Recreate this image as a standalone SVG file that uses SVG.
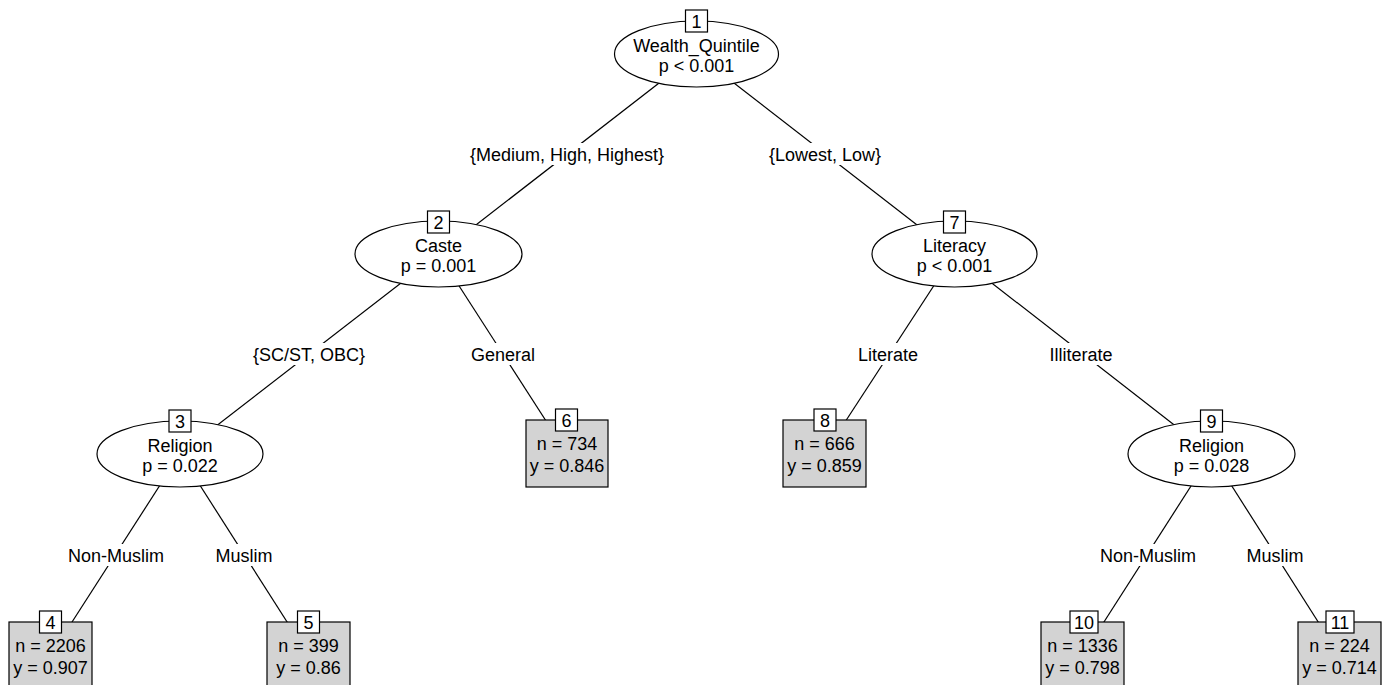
<svg xmlns="http://www.w3.org/2000/svg" width="1388" height="685" viewBox="0 0 1388 685">
<style>
text{font-family:"Liberation Sans",Arial,sans-serif;font-size:18px;fill:#000;text-anchor:middle}
.edge{stroke:#000;stroke-width:1.2;fill:none}
.lbg{fill:#fff;stroke:none}
.inner{fill:#fff;stroke:#000;stroke-width:1.2}
.leaf{fill:#d3d3d3;stroke:#000;stroke-width:1.2}
.idbox{fill:#fff;stroke:#000;stroke-width:1.2}
</style>
<rect width="1388" height="685" fill="#fff"/>
<g id="connectors">
<line class="edge" x1="696.5" y1="54" x2="438.5" y2="254"/>
<line class="edge" x1="696.5" y1="54" x2="954.5" y2="254"/>
<line class="edge" x1="438.5" y1="254" x2="180" y2="454"/>
<line class="edge" x1="438.5" y1="254" x2="567" y2="453.5"/>
<line class="edge" x1="954.5" y1="254" x2="824.5" y2="453.5"/>
<line class="edge" x1="954.5" y1="254" x2="1211.5" y2="454"/>
<line class="edge" x1="180" y1="454" x2="50.5" y2="655.5"/>
<line class="edge" x1="180" y1="454" x2="308.5" y2="655.5"/>
<line class="edge" x1="1211.5" y1="454" x2="1082.5" y2="655.5"/>
<line class="edge" x1="1211.5" y1="454" x2="1339.5" y2="655.5"/>
<rect class="lbg" x="468" y="143" width="198" height="22"/>
<text x="567" y="161">{Medium, High, Highest}</text>
<rect class="lbg" x="767" y="143" width="116" height="22"/>
<text x="825" y="161">{Lowest, Low}</text>
<rect class="lbg" x="250" y="343" width="118" height="22"/>
<text x="309" y="361">{SC/ST, OBC}</text>
<rect class="lbg" x="469" y="343" width="68" height="22"/>
<text x="503" y="361">General</text>
<rect class="lbg" x="856" y="343" width="64" height="22"/>
<text x="888" y="361">Literate</text>
<rect class="lbg" x="1048" y="343" width="67" height="22"/>
<text x="1081" y="361">Illiterate</text>
<rect class="lbg" x="66" y="544" width="100" height="22"/>
<text x="116" y="562">Non-Muslim</text>
<rect class="lbg" x="214" y="544" width="61" height="22"/>
<text x="244" y="562">Muslim</text>
<rect class="lbg" x="1098" y="544" width="100" height="22"/>
<text x="1148" y="562">Non-Muslim</text>
<rect class="lbg" x="1245" y="544" width="61" height="22"/>
<text x="1275" y="562">Muslim</text>
</g>
<g id="node1">
<ellipse class="inner" cx="696.5" cy="54" rx="82" ry="33"/>
<rect class="idbox" x="685.5" y="10" width="22" height="22"/>
<text x="696.5" y="27.5">1</text>
<text x="696.5" y="52">Wealth_Quintile</text>
<text x="696.5" y="72">p &lt; 0.001</text>
</g>
<g id="node2">
<ellipse class="inner" cx="438.5" cy="254" rx="83.5" ry="33"/>
<rect class="idbox" x="427.5" y="211" width="22" height="22"/>
<text x="438.5" y="228.5">2</text>
<text x="438.5" y="252">Caste</text>
<text x="438.5" y="272">p = 0.001</text>
</g>
<g id="node3">
<ellipse class="inner" cx="180" cy="454" rx="83" ry="33"/>
<rect class="idbox" x="169" y="410" width="22" height="22"/>
<text x="180" y="427.5">3</text>
<text x="180" y="452">Religion</text>
<text x="180" y="472">p = 0.022</text>
</g>
<g id="node4">
<rect class="leaf" x="9" y="622" width="83" height="67"/>
<rect class="idbox" x="39.5" y="611" width="22" height="22"/>
<text x="50.5" y="628.5">4</text>
<text x="50.5" y="652">n = 2206</text>
<text x="50.5" y="674">y = 0.907</text>
</g>
<g id="node5">
<rect class="leaf" x="267" y="622" width="83" height="67"/>
<rect class="idbox" x="297.5" y="611" width="22" height="22"/>
<text x="308.5" y="628.5">5</text>
<text x="308.5" y="652">n = 399</text>
<text x="308.5" y="674">y = 0.86</text>
</g>
<g id="node6">
<rect class="leaf" x="526" y="420" width="82" height="67"/>
<rect class="idbox" x="555.5" y="409" width="22" height="22"/>
<text x="566.5" y="426.5">6</text>
<text x="567" y="450">n = 734</text>
<text x="567" y="472">y = 0.846</text>
</g>
<g id="node7">
<ellipse class="inner" cx="954.5" cy="254" rx="82.5" ry="33"/>
<rect class="idbox" x="943.5" y="211" width="22" height="22"/>
<text x="954.5" y="228.5">7</text>
<text x="954.5" y="252">Literacy</text>
<text x="954.5" y="272">p &lt; 0.001</text>
</g>
<g id="node8">
<rect class="leaf" x="783" y="420" width="83" height="67"/>
<rect class="idbox" x="814" y="409" width="22" height="22"/>
<text x="825" y="426.5">8</text>
<text x="824.5" y="450">n = 666</text>
<text x="824.5" y="472">y = 0.859</text>
</g>
<g id="node9">
<ellipse class="inner" cx="1211.5" cy="454" rx="83.5" ry="33"/>
<rect class="idbox" x="1200.5" y="410" width="22" height="22"/>
<text x="1211.5" y="427.5">9</text>
<text x="1211.5" y="452">Religion</text>
<text x="1211.5" y="472">p = 0.028</text>
</g>
<g id="node10">
<rect class="leaf" x="1041" y="622" width="83" height="67"/>
<rect class="idbox" x="1070" y="611" width="28" height="22"/>
<text x="1084" y="628.5">10</text>
<text x="1082.5" y="652">n = 1336</text>
<text x="1082.5" y="674">y = 0.798</text>
</g>
<g id="node11">
<rect class="leaf" x="1298" y="622" width="83" height="67"/>
<rect class="idbox" x="1326" y="611" width="28" height="22"/>
<text x="1340" y="628.5">11</text>
<text x="1339.5" y="652">n = 224</text>
<text x="1339.5" y="674">y = 0.714</text>
</g>
</svg>
